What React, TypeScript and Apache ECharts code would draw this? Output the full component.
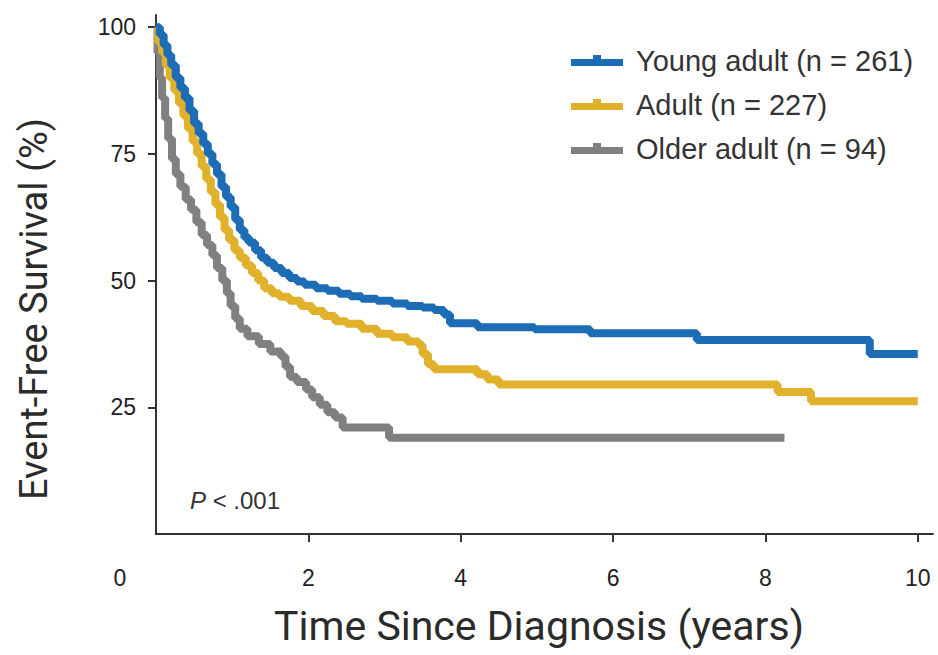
import React, { useEffect, useRef } from "react";
import * as echarts from "echarts";

// Kaplan-Meier curves (time in years, survival in %)
const youngTime = [0, 0.05, 0.1, 0.15, 0.2, 0.26, 0.32, 0.38, 0.44, 0.5, 0.56, 0.62, 0.68, 0.74, 0.8, 0.86, 0.92, 0.98, 1.04, 1.1, 1.16, 1.22, 1.3, 1.38, 1.46, 1.55, 1.65, 1.75, 1.85, 1.95, 2.1, 2.25, 2.4, 2.55, 2.7, 2.9, 3.1, 3.3, 3.5, 3.65, 3.78, 3.86, 4.22, 4.97, 5.7, 7.1, 9.37, 10];
const youngSurv = [100, 98.5, 96.5, 94.5, 92.5, 90, 88, 86, 83.5, 81, 79, 77, 75, 73, 71, 68.5, 66.5, 64.5, 62, 60, 58.5, 57.5, 56, 54.5, 53.5, 52.5, 51.5, 50.5, 49.8, 49.2, 48.5, 48, 47.4, 46.9, 46.4, 46, 45.5, 45, 44.7, 44.2, 43.3, 41.6, 40.8, 40.4, 39.6, 38.3, 35.5, 35.5];

const adultTime = [0, 0.03, 0.08, 0.13, 0.18, 0.24, 0.3, 0.36, 0.42, 0.48, 0.54, 0.6, 0.66, 0.72, 0.78, 0.84, 0.9, 0.96, 1.03, 1.1, 1.18, 1.26, 1.34, 1.42, 1.52, 1.62, 1.75, 1.9, 2.05, 2.2, 2.35, 2.5, 2.7, 2.9, 3.1, 3.3, 3.45, 3.5, 3.57, 3.65, 4.22, 4.35, 4.5, 8.16, 8.6, 10];
const adultSurv = [100, 97, 95, 92.5, 90, 87.5, 85, 82.5, 80, 77.5, 75, 72.5, 70, 67.5, 65, 62.5, 60, 58, 56, 54.5, 53, 51.5, 50, 48.5, 47.5, 46.8, 46, 45, 44, 43, 42, 41.5, 40.5, 39.5, 38.8, 38, 37.3, 35.5, 33.5, 32.5, 31.5, 30.5, 29.5, 28, 26.2, 26.2];

const olderTime = [0, 0.02, 0.05, 0.08, 0.12, 0.16, 0.21, 0.26, 0.32, 0.39, 0.46, 0.53, 0.6, 0.67, 0.74, 0.8, 0.87, 0.93, 0.98, 1.04, 1.1, 1.2, 1.35, 1.5, 1.64, 1.7, 1.76, 1.85, 1.97, 2.05, 2.15, 2.25, 2.35, 2.45, 3.06, 8.25];
const olderSurv = [100, 95, 90, 86, 82, 78, 74, 71, 68.5, 66, 64, 61.5, 59, 57, 55, 52.5, 50, 47.5, 45, 42.5, 40.5, 39, 37.5, 36, 35, 33, 31, 30, 28.5, 27, 25.5, 24, 23, 21, 19, 19];

const seriesNames = ["Young adult (n = 261)", "Adult (n = 227)", "Older adult (n = 94)"];
const seriesColors = ["#1c6db6", "#e1b12c", "#808080"];
const xTicks = [2, 4, 6, 8, 10];
const yTicks = [25, 50, 75, 100];

const toPairs = (t: number[], s: number[]) => t.map((v, i) => [v, s[i]]);

export default function App() {
  const ref = useRef<HTMLDivElement>(null);
  useEffect(() => {
    if (!ref.current) return;
    const chart = echarts.init(ref.current, null, { renderer: "svg" });
    const tickFont = "'Liberation Sans', Arial, sans-serif";
    const titleFont = "Roboto, 'Liberation Sans', sans-serif";
    const datasets = [toPairs(youngTime, youngSurv), toPairs(adultTime, adultSurv), toPairs(olderTime, olderSurv)];
    chart.setOption({
      animation: false,
      backgroundColor: "#ffffff",
      grid: { left: 156, right: 5, top: 15, bottom: 121, containLabel: false },
      xAxis: {
        type: "value",
        min: 0,
        max: 10.2,
        splitLine: { show: false },
        axisLine: { show: true, lineStyle: { color: "#333", width: 2 } },
        axisTick: { show: true, customValues: xTicks, length: 8, lineStyle: { color: "#333", width: 2 } },
        axisLabel: { customValues: xTicks, margin: 32, fontSize: 23, color: "#222", fontFamily: tickFont },
      },
      yAxis: {
        type: "value",
        min: 0,
        max: 102.4,
        splitLine: { show: false },
        axisLine: { show: true, lineStyle: { color: "#333", width: 2 } },
        axisTick: { show: true, customValues: yTicks, length: 8, lineStyle: { color: "#333", width: 2 } },
        axisLabel: { customValues: yTicks, margin: 20, fontSize: 23, color: "#222", fontFamily: tickFont },
      },
      legend: {
        orient: "vertical",
        left: 566,
        top: 40,
        itemWidth: 52,
        itemHeight: 11,
        itemGap: 13,
        data: seriesNames.map((n) => ({
          name: n,
          icon: "path://M0,4H22V0H30V4H52V11H0Z",
        })),
        textStyle: { fontSize: 29, color: "#333", fontFamily: tickFont, lineHeight: 31, padding: [0, 0, 0, 8] },
      },
      graphic: [
        {
          type: "text",
          x: 120,
          y: 578,
          style: { text: "0", fontSize: 23, fill: "#222", fontFamily: tickFont, align: "center", verticalAlign: "middle" },
        },
        {
          type: "text",
          x: 539,
          y: 626,
          style: { text: "Time Since Diagnosis (years)", fontSize: 41, fill: "#2b2b2b", fontFamily: titleFont, align: "center", verticalAlign: "middle" },
        },
        {
          type: "text",
          x: 34,
          y: 309,
          rotation: Math.PI / 2,
          style: { text: "Event-Free Survival (%)", fontSize: 38, fill: "#2b2b2b", fontFamily: titleFont, align: "center", verticalAlign: "middle" },
        },
        {
          type: "text",
          x: 190,
          y: 500,
          style: {
            text: "{i|P} < .001",
            fontSize: 24,
            fill: "#333",
            fontFamily: tickFont,
            verticalAlign: "middle",
            rich: { i: { fontStyle: "italic", fontSize: 24, fontFamily: tickFont, fill: "#333" } },
          },
        },
      ],
      series: seriesNames.map((name, i) => ({
        name,
        type: "line",
        step: "end",
        data: datasets[i],
        showSymbol: false,
        symbol: "none",
        clip: false,
        z: 10 - i,
        color: seriesColors[i],
        lineStyle: { width: 8, color: seriesColors[i] },
      })),
    });
    return () => chart.dispose();
  }, []);
  return <div ref={ref} style={{ width: 938, height: 655, position: "absolute", left: 0, top: 0 }} />;
}
